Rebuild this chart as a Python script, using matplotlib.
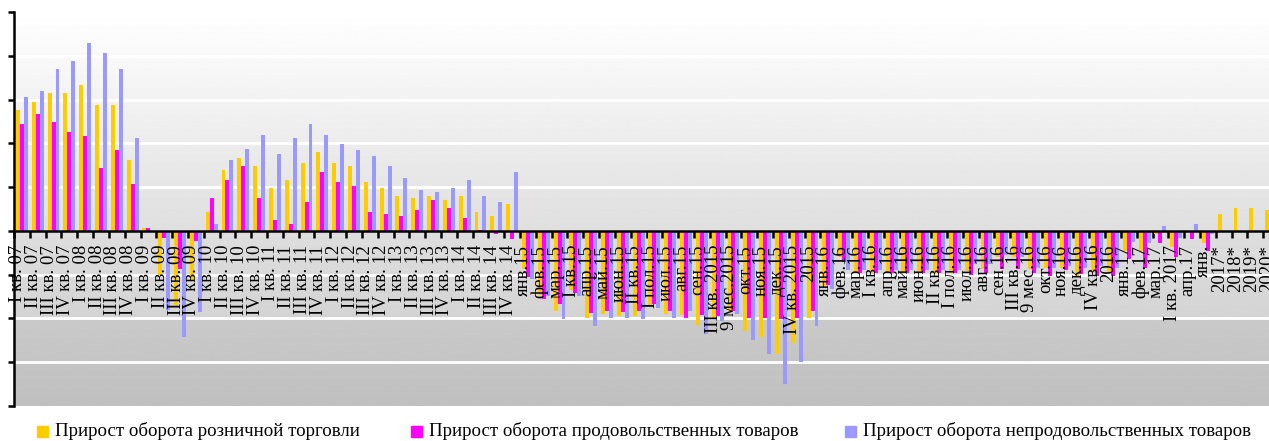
import numpy as np
import matplotlib.pyplot as plt
from matplotlib.patches import Rectangle

plt.rcParams['font.family'] = ['Liberation Serif', 'DejaVu Serif']

categories = [
    'I кв. 07', 'II кв. 07', 'III кв. 07', 'IV кв. 07',
    'I кв. 08', 'II кв. 08', 'III кв. 08', 'IV кв. 08',
    'I кв. 09', 'II кв. 09', 'III кв. 09', 'IV кв. 09',
    'I кв. 10', 'II кв. 10', 'III кв. 10', 'IV кв. 10',
    'I кв. 11', 'II кв. 11', 'III кв. 11', 'IV кв. 11',
    'I кв. 12', 'II кв. 12', 'III кв. 12', 'IV кв. 12',
    'I кв. 13', 'II кв. 13', 'III кв. 13', 'IV кв. 13',
    'I кв. 14', 'II кв. 14', 'III кв. 14', 'IV кв. 14',
    'янв.15', 'фев.15', 'мар.15', 'I кв.15', 'апр.15', 'май.15', 'июн.15',
    'II кв.15', 'I пол.15', 'июл.15', 'авг.15', 'сен.15', 'III кв. 2015',
    '9 мес.2015', 'окт.15', 'ноя.15', 'дек.15', 'IV кв. 2015', '2015',
    'янв.16', 'фев.16', 'мар.16', 'I кв.16', 'апр.16', 'май.16', 'июн.16',
    'II кв.16', 'I пол.16', 'июл.16', 'авг.16', 'сен.16', 'III кв.16',
    '9 мес.16', 'окт.16', 'ноя.16', 'дек.16', 'IV кв.16', '2016',
    'янв.17', 'фев.17', 'мар.17', 'I кв. 2017', 'апр.17', 'янв.',
    '2017*', '2018*', '2019*', '2020*',
]

retail = [
    13.75, 14.7, 15.8, 15.8, 16.7, 14.4, 14.4, 8.1,
    0.3, -5.0, -8.5, -5.7, 2.2, 6.9, 8.3, 7.4,
    4.9, 5.8, 7.8, 9.0, 7.8, 7.4, 5.6, 4.9,
    4.0, 3.75, 4.0, 3.5, 4.0, 2.2, 1.7, 3.1,
    -4.4, -7.3, -9.1, -6.8, -10.0, -9.5, -9.7,
    -9.7, -8.7, -9.5, -9.6, -10.7, -10.0,
    -9.1, -11.4, -12.1, -14.1, -12.8, -10.0,
    -6.3, -3.0, -4.8, -4.8, -4.8, -4.8, -4.8,
    -4.8, -4.8, -4.6, -4.4, -3.0, -3.0,
    -4.4, -4.2, -4.2, -5.1, -4.7, -4.7,
    -2.3, -2.3, -0.3, -1.8, -0.1, -1.4,
    1.9, 2.6, 2.6, 2.4,
]

food = [
    12.2, 13.3, 12.4, 11.25, 10.8, 7.2, 9.2, 5.3,
    0.3, -0.8, -4.3, -1.2, 3.75, 5.8, 7.4, 3.75,
    1.25, 0.8, 3.3, 6.7, 5.6, 5.1, 2.2, 1.9,
    1.7, 2.4, 3.5, 2.6, 1.5, 0.1, -0.3, -0.9,
    -5.3, -7.8, -8.3, -7.1, -9.4, -9.1, -9.3,
    -9.2, -8.3, -9.1, -10.0, -9.6, -9.7,
    -9.2, -10.0, -10.0, -10.1, -10.0, -9.1,
    -6.2, -3.5, -4.8, -4.8, -4.8, -4.8, -4.8,
    -4.8, -4.8, -5.0, -4.8, -4.3, -4.4,
    -4.8, -5.1, -4.5, -4.9, -5.1, -5.1,
    -3.2, -4.2, -1.4, -3.0, -0.95, -2.3,
    0, 0, 0, 0,
]

nonfood = [
    15.3, 16.0, 18.5, 19.4, 21.5, 20.3, 18.5, 10.6,
    0.0, -9.0, -12.1, -9.3, 0.8, 8.1, 9.4, 11.0,
    8.75, 10.6, 12.2, 11.0, 9.9, 9.2, 8.5, 7.4,
    6.0, 4.7, 4.4, 4.9, 5.8, 4.0, 3.3, 6.7,
    -5.5, -7.4, -10.1, -7.4, -10.9, -10.0, -9.9,
    -10.1, -8.8, -10.0, -9.1, -11.8, -10.3,
    -9.5, -12.5, -14.1, -17.5, -15.0, -10.9,
    -6.6, -4.5, -4.5, -4.5, -4.5, -4.5, -4.5,
    -4.5, -4.5, -3.8, -3.8, -2.7, -3.0,
    -4.2, -4.2, -4.0, -4.2, -4.0, -4.2,
    -1.25, -1.4, 0.6, -0.8, 0.75, -0.3,
    0, 0, 0, 0,
]

series_names = ['Прирост оборота розничной торговли',
                'Прирост оборота продовольственных товаров',
                'Прирост оборота непродовольственных товаров']
colors = ['#ffcc00', '#ff00ff', '#9999ff']

W, H = 1269, 441
fig = plt.figure(figsize=(W / 100, H / 100), dpi=100)
# the plot area runs past the right edge, as in the original cropped picture
ax = fig.add_axes([14 / W, 35 / H, 1265 / W, 394 / H])

n = len(categories)
x = np.arange(n)
ymin, ymax = -20, 25

# background: vertical gray gradient
levels = np.linspace(ymax, ymin, 400)
shade = np.where(levels > 0, 1.0 - (1.0 - 0.875) * (ymax - levels) / ymax,
                 np.where(levels > -10, 0.87 - 0.04 * (-levels) / 10,
                          0.79 - 0.04 * (-levels - 10) / 10))
img = np.repeat(shade[:, None], 2, axis=1)
ax.imshow(img, cmap='gray', vmin=0, vmax=1, aspect='auto',
          extent=[-0.5, n - 0.5, ymin, ymax], zorder=0)

for yv in np.arange(ymin + 5, ymax, 5):
    if yv != 0:
        ax.axhline(yv, color='white', lw=2, zorder=1)

bw = 0.25
for k, (vals, c) in enumerate(zip([retail, food, nonfood], colors)):
    ax.bar(x + (k - 1) * bw, vals, bw, color=c, zorder=2, linewidth=0)

ax.set_xlim(-0.5, n - 0.5)
ax.set_ylim(ymin, ymax)

for s in ['top', 'right']:
    ax.spines[s].set_visible(False)
ax.spines['bottom'].set_position(('data', 0))
ax.spines['bottom'].set_linewidth(1.8)
ax.spines['left'].set_linewidth(1.8)
ax.spines['bottom'].set_zorder(4)

ax.set_xticks(np.arange(-0.5, n, 1))
ax.set_xticklabels([])
ax.tick_params(axis='x', direction='out', length=5, width=1.8)
ax.set_yticks(np.arange(ymin, ymax + 1, 5))
ax.set_yticklabels([])
ax.tick_params(axis='y', direction='out', length=4, width=1.8)

for i, lab in enumerate(categories):
    ax.text(i - 0.25, -1.6, lab, rotation=90, ha='center', va='top',
            fontsize=13.5, zorder=5)

# legend below the plot
leg_x = [37, 411, 845]
for lx, name, c in zip(leg_x, series_names, colors):
    fig.patches.append(Rectangle((lx / W, (H - 437) / H), 11 / W, 11 / H,
                                 transform=fig.transFigure, color=c))
    fig.text((lx + 18) / W, (H - 431) / H, name, fontsize=13.6, va='center')

fig.savefig('out.png', dpi=100)
